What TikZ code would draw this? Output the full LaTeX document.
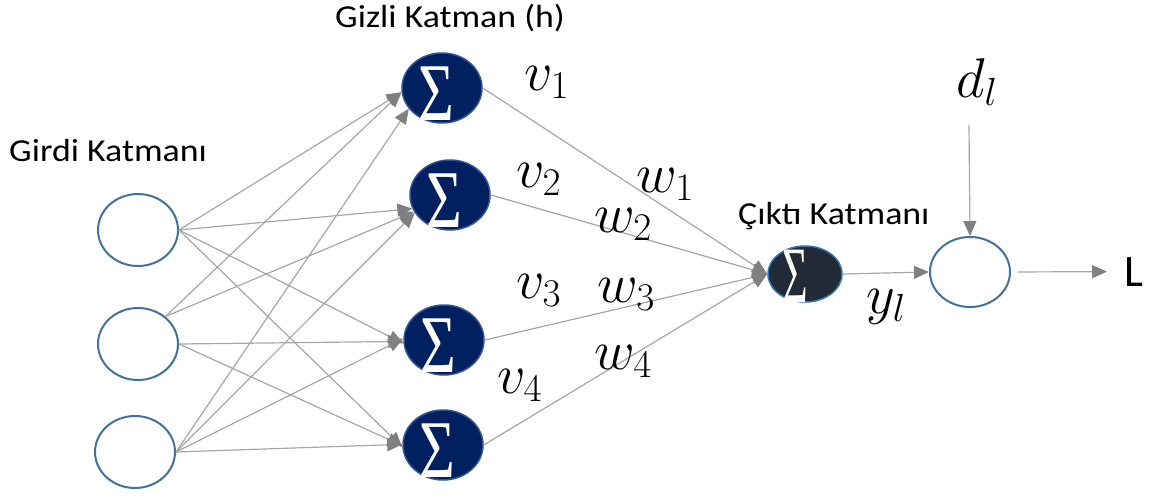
\RequirePackage{fix-cm}
\documentclass[tikz,border=0pt]{standalone}
\usepackage{fontspec}
\usetikzlibrary{arrows.meta,shapes.geometric}
\newfontfamily\labelfont{Carlito}[FakeStretch=1.12]
\newfontfamily\plainsans{Carlito}
\newfontfamily\sigmafont{Liberation Serif}
\definecolor{edgegray}{HTML}{A6A6A6}
\definecolor{tipgray}{HTML}{808080}
\definecolor{inblue}{HTML}{41719C}
\definecolor{navy}{HTML}{002060}
\definecolor{navyrim}{HTML}{2F5597}
\definecolor{outfill}{HTML}{222A35}
\definecolor{outrim}{HTML}{2E75B6}
\begin{document}
\begin{tikzpicture}[x=1pt,y=-1pt,
  innode/.style={ellipse, draw=inblue, line width=2pt, fill=white,
    minimum width=80pt, minimum height=72pt, inner sep=0pt},
  hidnode/.style={ellipse, draw=navyrim, line width=1.5pt, fill=navy,
    minimum width=80pt, minimum height=70pt, inner sep=0pt},
  outnode/.style={ellipse, draw=outrim, line width=1.5pt, fill=outfill,
    minimum width=74pt, minimum height=56pt, inner sep=0pt},
  sigma/.style={text=white, inner sep=0pt, font=\sigmafont\fontsize{82}{82}\selectfont},
  layertext/.style={font=\labelfont\fontsize{32}{32}\selectfont, inner sep=0pt, anchor=base west},
  mathlbl/.style={font=\fontsize{56}{56}\selectfont, inner sep=0pt, anchor=base west},
  link/.style={draw=edgegray, line width=1.2pt,
    -{Triangle[length=15pt,width=13pt,color=tipgray]}}
]
\useasboundingbox (0,0) rectangle (1161,495);

% input layer
\node[innode] (i1) at (138,230) {};
\node[innode] (i2) at (138,344) {};
\node[innode] (i3) at (135,452) {};

% hidden layer
\node[hidnode] (h1) at (442,88) {};
\node[hidnode] (h2) at (450,195) {};
\node[hidnode] (h3) at (444,340) {};
\node[hidnode] (h4) at (443,445) {};
\node[sigma] (s1) at ([shift={(-6,6)}]h1.center) {\scalebox{0.75}[1]{Σ}};
\node[sigma] (s2) at ([shift={(-6,6)}]h2.center) {\scalebox{0.75}[1]{Σ}};
\node[sigma] (s3) at ([shift={(-6,6)}]h3.center) {\scalebox{0.75}[1]{Σ}};
\node[sigma] (s4) at ([shift={(-6,6)}]h4.center) {\scalebox{0.75}[1]{Σ}};

% output and loss
\node[outnode] (out) at (805,274) {};
\node[sigma, font=\sigmafont\fontsize{80}{80}\selectfont] (so) at (795,276) {\scalebox{0.55}[1]{Σ}};
\node[innode, minimum height=70pt] (fin) at (970,272) {};

% input -> hidden
\draw[link] (i1.east) -- (h1.186);
\draw[link] (i2.45)   -- (h1.186);
\draw[link] (i3.east) -- (h1.212);
\draw[link] (i1.east) -- (h2.200);
\draw[link] (i2.45)   -- (h2.205);
\draw[link] (i3.east) -- (h2.207);
\draw[link] (i1.east) -- (h3.185);
\draw[link] (i2.east) -- (h3.182);
\draw[link] (i3.east) -- (h3.178);
\draw[link] (i1.east) -- (h4.183);
\draw[link] (i2.east) -- (h4.181);
\draw[link] (i3.east) -- (h4.179);

% hidden -> output
\draw[link] (h1.east) -- (out.west);
\draw[link] (h2.east) -- (out.west);
\draw[link] (h3.east) -- (out.west);
\draw[link] (h4.east) -- (out.west);

% output -> loss
\draw[link] (out.east) -- (fin.west);
\coordinate (dtop) at (969,125);
\draw[link] (dtop) -- (fin.north);
\node[font=\plainsans\fontsize{45}{45}\selectfont, inner sep=0pt, anchor=base west] (L) at (1124,286) {L};
\draw[link, shorten <=7pt, shorten >=17pt] (fin.east) -- (L.west);

% layer titles
\node[layertext] (tin)  at (9,161)   {Girdi Katmanı};
\node[layertext] (thid) at (335,28)  {Gizli Katman (h)};
\node[layertext] (tout) at (738,224) {Çıktı Katmanı};

% weights
\node[mathlbl] (v1) at (524,90)  {$v_1$};
\node[mathlbl] (v2) at (516,187) {$v_2$};
\node[mathlbl] (v3) at (516,298) {$v_3$};
\node[mathlbl] (v4) at (497,393) {$v_4$};
\node[mathlbl] (w1) at (636,192) {$w_1$};
\node[mathlbl] (w2) at (594,232) {$w_2$};
\node[mathlbl] (w3) at (597,302) {$w_3$};
\node[mathlbl] (w4) at (594,369) {$w_4$};
\node[mathlbl] (yl) at (866,313) {$y_l$};
\node[mathlbl] (dl) at (956,97)  {$d_l$};
\end{tikzpicture}
\end{document}
